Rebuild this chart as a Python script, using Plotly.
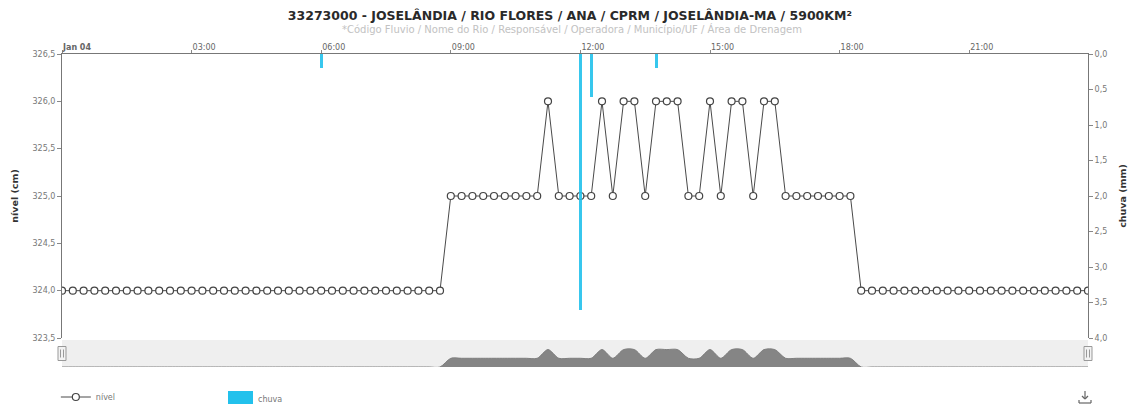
import pandas as pd
import plotly.graph_objects as go

# ---------------- data ----------------
day = "2024-01-04"
times = [str(t) for t in pd.date_range(f"{day} 00:00", f"{day} 23:45", freq="15min")]
nivel = ([324.0] * 36 + [325.0] * 9 + [326.0] + [325.0] * 4 + [326.0] + [325.0]
         + [326.0] * 2 + [325.0] + [326.0] * 3 + [325.0] * 2 + [326.0] + [325.0]
         + [326.0] * 2 + [325.0] + [326.0] * 2 + [325.0] * 7 + [324.0] * 22)
chuva_times = [f"{day} 06:00", f"{day} 12:00", f"{day} 12:15", f"{day} 13:45"]
chuva = [0.2, 3.6, 0.6, 0.2]

tick_times = [f"{day} {h}" for h in ["00:00", "03:00", "06:00", "09:00", "12:00", "15:00", "18:00", "21:00"]]
tick_labels = ["<b>Jan 04</b>", "03:00", "06:00", "09:00", "12:00", "15:00", "18:00", "21:00"]
nivel_ticks = [323.5, 324.0, 324.5, 325.0, 325.5, 326.0, 326.5]
chuva_ticks = [0.0, 0.5, 1.0, 1.5, 2.0, 2.5, 3.0, 3.5, 4.0]

title = "33273000 - JOSELÂNDIA / RIO FLORES / ANA / CPRM / JOSELÂNDIA-MA / 5900KM²"
subtitle = "*Código Fluvio / Nome do Rio / Responsável / Operadora / Município/UF / Área de Drenagem"

FONT = "DejaVu Sans"
OFF = 8                      # page body margin
W, H = 1137 - OFF, 407 - OFF
ML, MR, MT, MB = 62 - OFF, 49, 54 - OFF, 40
PH = H - MT - MB  # 313
PW = W - ML - MR  # 1026
nav_h = 27
gap = 2
nav_dom = [0, nav_h / PH]
main_dom = [(nav_h + gap) / PH, 1]
BOT = 367  # window y of plot-area bottom


def px(xw):
    return (xw - 62) / PW


def py(yw):
    return (BOT - yw) / PH


fig = go.Figure()

fig.add_trace(go.Bar(
    x=chuva_times, y=chuva, name="chuva", xaxis="x", yaxis="y2", showlegend=False,
    marker=dict(color="#22c1ec", line=dict(width=0)), width=250000, opacity=0.9,
))
fig.add_trace(go.Scatter(
    x=times, y=nivel, name="nível", xaxis="x", yaxis="y",
    mode="lines+markers",
    line=dict(color="#4a4a4a", width=1),
    marker=dict(symbol="circle", size=7, color="white", line=dict(color="#444444", width=1.2)),
))
# navigator
fig.add_trace(go.Scatter(
    x=times, y=nivel, xaxis="x2", yaxis="y3", mode="lines", showlegend=False,
    line=dict(color="#7f7f7f", width=1, shape="spline", smoothing=0.8),
    fill="tozeroy", fillcolor="#858585", hoverinfo="skip",
))

rng = [times[0], times[-1]]
fig.update_layout(
    width=W, height=H,
    margin=dict(l=ML, r=MR, t=MT, b=MB, pad=0, autoexpand=False),
    paper_bgcolor="white", plot_bgcolor="white",
    separators=",.",
    font=dict(family=FONT, size=8, color="#666666"),
    bargap=0,
    showlegend=True,
    legend=dict(orientation="h", x=-0.006, xanchor="left", xref="paper",
                y=1 - (397 - OFF) / H, yanchor="middle", yref="container",
                font=dict(size=8, color="#777777"), itemwidth=30),
    title=dict(text=f"<b>{title}</b>", x=0.495, xanchor="center", xref="paper",
               y=1 - (16 - OFF) / H, yanchor="middle", yref="container",
               font=dict(family=FONT, size=12.5, color="#2a2a2a")),
    xaxis=dict(
        type="date", range=rng, side="top", anchor="y", domain=[0, 1], automargin=False,
        tickvals=tick_times, ticktext=tick_labels, ticklabelposition="outside right",
        ticks="outside", ticklen=3, tickcolor="#888888", tickfont=dict(size=8, color="#666666"),
        showline=True, linecolor="#777777", linewidth=1, showgrid=False, zeroline=False,
    ),
    yaxis=dict(
        domain=main_dom, range=[323.5, 326.5], tickvals=nivel_ticks, tickformat=".1f",
        automargin=False,
        ticks="outside", ticklen=4, tickcolor="#888888", tickfont=dict(size=8, color="#777777"),
        showline=True, linecolor="#777777", linewidth=1, showgrid=False, zeroline=False,
        title=dict(text="<b>nível (cm)</b>", font=dict(size=9.5, color="#333333"), standoff=12),
    ),
    yaxis2=dict(
        overlaying="y", side="right", anchor="x", range=[4, 0], tickvals=chuva_ticks,
        tickformat=".1f", ticks="outside", ticklen=4, tickcolor="#888888", automargin=False,
        tickfont=dict(size=8, color="#777777"),
        showline=True, linecolor="#777777", linewidth=1, showgrid=False, zeroline=False,
        title=dict(text="<b>chuva (mm)</b>", font=dict(size=9.5, color="#333333"), standoff=13),
    ),
    xaxis2=dict(type="date", range=rng, anchor="y3", domain=[0, 1], visible=False),
    yaxis3=dict(domain=nav_dom, range=[324, 327.1], visible=False),
)

fig.add_annotation(text=subtitle, xref="paper", yref="paper", x=0.497, y=py(29),
                   xanchor="center", yanchor="middle", showarrow=False,
                   font=dict(family=FONT, size=10, color="#c2c2c2"))

# custom legend entry for chuva
fig.add_shape(type="rect", xref="paper", yref="paper", x0=px(228), x1=px(253), y0=py(404), y1=py(391),
              fillcolor="#22c1ec", line=dict(width=0))
fig.add_annotation(text="chuva", xref="paper", yref="paper", x=px(256), y=py(399),
                   xanchor="left", yanchor="middle", showarrow=False,
                   font=dict(family=FONT, size=8, color="#777777"))

# navigator background
fig.add_shape(type="rect", xref="x2 domain", yref="y3 domain", x0=0, x1=1, y0=0, y1=1,
              fillcolor="#efefef", line=dict(width=0), layer="below")
# navigator handles
nav_mid = (nav_h / 2) / PH
for xa in (0, 1):
    fig.add_shape(type="rect", xref="paper", yref="paper", xsizemode="pixel", ysizemode="pixel",
                  xanchor=xa, yanchor=nav_mid, x0=-4, x1=4, y0=-7, y1=7,
                  fillcolor="#f2f2f2", line=dict(color="#999999", width=1))
    for dx in (-1.5, 1.5):
        fig.add_shape(type="line", xref="paper", yref="paper", xsizemode="pixel", ysizemode="pixel",
                      xanchor=xa, yanchor=nav_mid, x0=dx, x1=dx, y0=-4, y1=4,
                      line=dict(color="#999999", width=1))

# download icon
icon = [(0, 6, 0, -2), (-3, 1, 0, -2), (3, 1, 0, -2), (-6, -3, -6, -6), (-6, -6, 6, -6), (6, -6, 6, -3)]
for x0, y0, x1, y1 in icon:
    fig.add_shape(type="line", xref="paper", yref="paper", xsizemode="pixel", ysizemode="pixel",
                  xanchor=px(1085), yanchor=py(397), x0=x0, y0=y0, x1=x1, y1=y1,
                  line=dict(color="#666666", width=1.2))

fig.write_html("out.html")
